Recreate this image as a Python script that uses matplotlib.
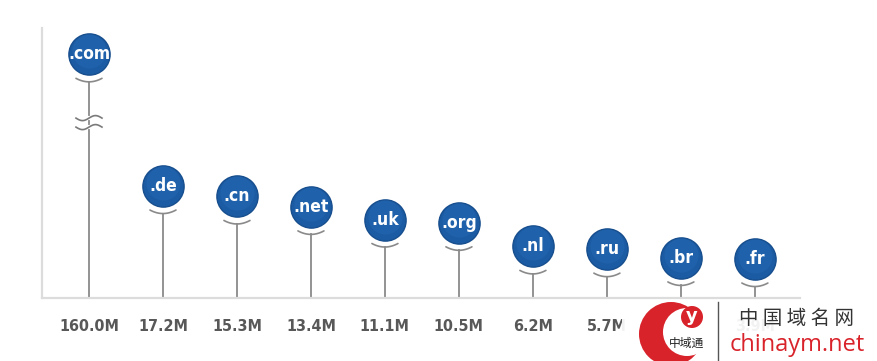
import numpy as np
import matplotlib.pyplot as plt
from matplotlib.patches import Circle, Rectangle

# ---- data ----
tlds = [".com", ".de", ".cn", ".net", ".uk", ".org", ".nl", ".ru", ".br", ".fr"]
registrations = [160.0, 17.2, 15.3, 13.4, 11.1, 10.5, 6.2, 5.7, 4.1, 3.9]
value_labels = ["160.0M", "17.2M", "15.3M", "13.4M", "11.1M", "10.5M",
                "6.2M", "5.7M", "4.1M", "3.9M"]

# .com is far off the scale, so it is drawn at a capped height with a break mark
CAP = 41.2

W, H = 878, 361
fig = plt.figure(figsize=(W / 100, H / 100), dpi=100)
fig.patch.set_facecolor("white")

left, right, bottom, top = 42, 800, 298, 28
ax = fig.add_axes([left / W, (H - bottom) / H, (right - left) / W, (bottom - top) / H])
ax.set_xlim(-0.635, 9.61)
ax.set_ylim(-3.2, 46.0)
for s in ["top", "right"]:
    ax.spines[s].set_visible(False)
for s in ["left", "bottom"]:
    ax.spines[s].set_color("#dcdcdc")
    ax.spines[s].set_linewidth(1.6)
ax.set_xticks([])
ax.set_yticks([])

px_y = 1 / 5.49     # data units per pixel (vertical)
px_x = 1 / 74.0     # data units per pixel (horizontal)
narrow = ["DejaVu Sans"]

x = np.arange(len(tlds))
heights = [min(v, CAP) for v in registrations]

for i, (name, h) in enumerate(zip(tlds, heights)):
    # smile under the pin
    arc_top = h - 24 * px_y
    ax_x = i + np.linspace(-13, 13, 30) * px_x
    ax_y = arc_top - 3.5 * px_y * (1 - ((ax_x - i) / (13 * px_x)) ** 2)
    ax.plot(ax_x, ax_y, color="#8a8a8a", lw=1.2, solid_capstyle="round")
    stem_top = arc_top - 3.5 * px_y
    ax.plot([i, i], [-3.2, stem_top], color="#8a8a8a", lw=1.3)

# pins
ax.scatter(x, heights, s=880, color="#1b5ba3", edgecolor="#174e8e",
           linewidth=1.0, zorder=3)
ax.scatter(x, np.array(heights) + 3 * px_y, s=600, color="#2366b0",
           linewidth=0, zorder=3, alpha=0.6)
for i, (name, h) in enumerate(zip(tlds, heights)):
    ax.text(i, h, name, color="white", fontsize=12.5, fontweight="bold",
            family=narrow, fontstretch="condensed", ha="center", va="center",
            zorder=4)

# break mark on the .com stem
for yb in [118, 127]:
    yv = (280.4 - yb) * px_y
    bx = np.linspace(-13, 13, 40) * px_x
    by = yv + 2.5 * px_y * np.sin(bx / (13 * px_x) * np.pi)
    ax.plot(bx, by, color="#7a7a7a", lw=1.2, zorder=3)
    ax.plot([-1.5 * px_x, 1.5 * px_x], [yv, yv], color="white", lw=3, zorder=2)

# value labels under the axis
for i, lab in enumerate(value_labels):
    ax.text(i, -3.2 - 29 * px_y, lab, color="#585858", fontsize=11.5,
            fontweight="bold", family=narrow, fontstretch="condensed",
            ha="center", va="center", clip_on=False)

# ---- watermark (bottom right) ----
ov = fig.add_axes([0, 0, 1, 1], zorder=10)
ov.set_xlim(0, W)
ov.set_ylim(H, 0)
ov.axis("off")
ov.patch.set_alpha(0)
ov.add_patch(Rectangle((622, 300), 256, 61, color="white", alpha=0.93, lw=0))
ov.add_patch(Circle((671, 334), 32, color="#d9232b", lw=0))
ov.add_patch(Circle((687, 332), 24, color="white", lw=0))
ov.add_patch(Circle((692, 317), 11, color="#d9232b", lw=0))
ov.text(692, 316, "y", color="white", fontsize=13, fontweight="bold",
        ha="center", va="center")
ov.text(687, 343, "中域通", color="#222222", fontsize=8.5,
        family=["Noto Sans CJK SC", "DejaVu Sans"], ha="center", va="center")
ov.plot([718, 718], [302, 361], color="#555555", lw=1)
ov.text(797, 318, "中 国 域 名 网", color="#333333", fontsize=14,
        family=["Noto Sans CJK SC", "DejaVu Sans"], ha="center", va="center")
ov.text(797, 345, "chinaym.net", color="#d9232b", fontsize=17,
        family=["Open Sans", "DejaVu Sans"], ha="center", va="center")

fig.savefig("out.png", dpi=100)
